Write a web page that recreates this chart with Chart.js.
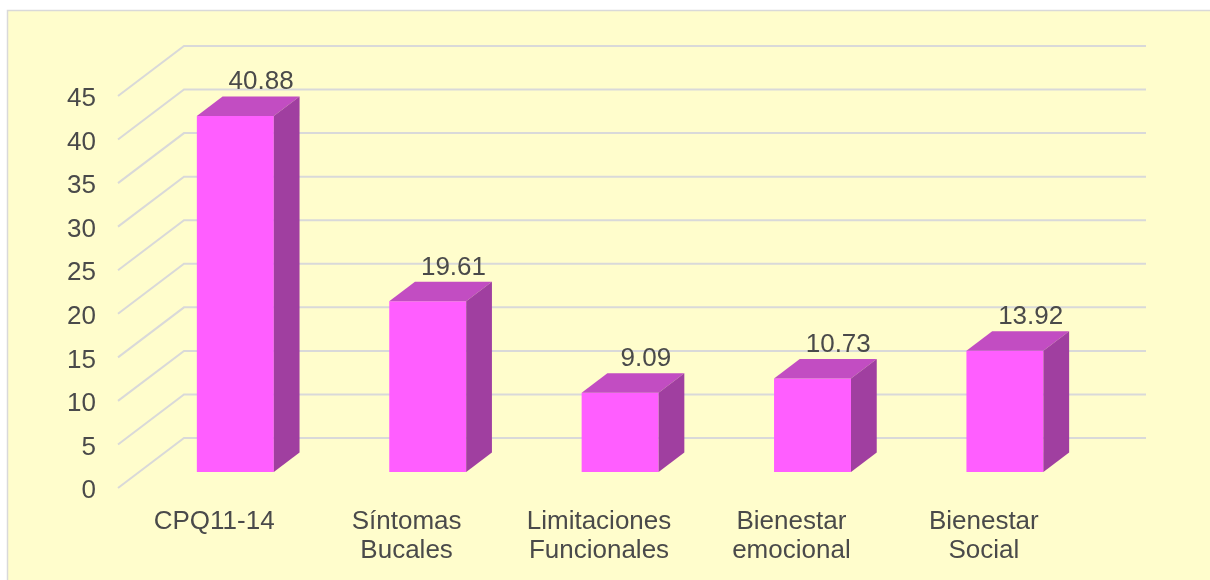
<!DOCTYPE html>
<html>
<head>
<meta charset="utf-8">
<script src="https://cdn.jsdelivr.net/npm/chart.js@4.4.1/dist/chart.umd.min.js"></script>
<style>
    html, body { margin: 0; padding: 0; background: #fff; }
    canvas { display: block; }
</style>
</head>
<body>
<canvas id="chart" width="1210" height="580"></canvas>
<script>
// Datos
var categories = ['CPQ11-14', ['Síntomas', 'Bucales'], ['Limitaciones', 'Funcionales'], ['Bienestar', 'emocional'], ['Bienestar', 'Social']];
var values     = [40.88, 19.61, 9.09, 10.73, 13.92];
var yTicks     = [0, 5, 10, 15, 20, 25, 30, 35, 40, 45];

// Estilo / perspectiva 3D
var DEPTH_X     = 66;
var DEPTH_Y     = -50;
var BAR_FRONT   = 0.32;   // profundidad de la cara frontal
var BAR_BACK    = 0.71;   // profundidad de la cara trasera
var TEXT_COLOR  = '#4a4a4a';
var GRID_COLOR  = '#d9d9d9';
var FONT        = "'Liberation Sans', Arial, sans-serif";

var depth3d = {
    id: 'depth3d',
    afterLayout: function (chart) {
        // bajar un poco las etiquetas del eje y
        var s = chart.scales.y;
        if (s._shifted) return;
        var orig = s.drawLabels;
        s.drawLabels = function (area) {
            this.ctx.save();
            this.ctx.translate(0, 3);
            orig.call(this, area);
            this.ctx.restore();
        };
        s._shifted = true;
    },
    beforeDraw: function (chart) {
        var ctx = chart.ctx;
        ctx.save();
        ctx.fillStyle = '#ffffff';
        ctx.fillRect(0, 0, chart.width, chart.height);
        ctx.fillStyle = '#fffdcc';
        ctx.fillRect(8, 11, chart.width - 8, chart.height - 11);
        ctx.strokeStyle = '#d9d9d9';
        ctx.lineWidth = 1.5;
        ctx.beginPath();
        ctx.moveTo(7.5, chart.height);
        ctx.lineTo(7.5, 10.5);
        ctx.lineTo(chart.width, 10.5);
        ctx.stroke();
        ctx.restore();
    },
    beforeDatasetsDraw: function (chart) {
        // rejilla: pared trasera + lineas diagonales del lado izquierdo
        var ctx = chart.ctx, y = chart.scales.y, area = chart.chartArea;
        ctx.save();
        ctx.strokeStyle = GRID_COLOR;
        ctx.lineWidth = 2;
        yTicks.forEach(function (t) {
            var py = y.getPixelForValue(t);
            ctx.beginPath();
            ctx.moveTo(area.left, py);
            ctx.lineTo(area.left + DEPTH_X, py + DEPTH_Y);
            ctx.lineTo(area.right + DEPTH_X, py + DEPTH_Y);
            ctx.stroke();
        });
        ctx.restore();
    },
    beforeDatasetDraw: function (chart) {
        chart.ctx.save();
        chart.ctx.translate(DEPTH_X * BAR_FRONT, DEPTH_Y * BAR_FRONT);
    },
    afterDatasetDraw: function (chart) {
        chart.ctx.restore();
    },
    afterDatasetsDraw: function (chart) {
        var ctx = chart.ctx;
        var meta = chart.getDatasetMeta(0);
        var fx = DEPTH_X * BAR_FRONT, fy = DEPTH_Y * BAR_FRONT;
        var dx = DEPTH_X * (BAR_BACK - BAR_FRONT), dy = DEPTH_Y * (BAR_BACK - BAR_FRONT);

        ctx.save();
        meta.data.forEach(function (el, i) {
            var x0 = el.x - el.width / 2 + fx;
            var x1 = el.x + el.width / 2 + fx;
            var top = el.y + fy;
            var base = el.base + fy;

            // cara superior
            ctx.fillStyle = '#c24dc2';
            ctx.beginPath();
            ctx.moveTo(x0, top);
            ctx.lineTo(x1, top);
            ctx.lineTo(x1 + dx, top + dy);
            ctx.lineTo(x0 + dx, top + dy);
            ctx.closePath();
            ctx.fill();

            // cara lateral
            ctx.fillStyle = '#a03fa0';
            ctx.beginPath();
            ctx.moveTo(x1, top);
            ctx.lineTo(x1 + dx, top + dy);
            ctx.lineTo(x1 + dx, base + dy);
            ctx.lineTo(x1, base);
            ctx.closePath();
            ctx.fill();

            // etiqueta de valor
            ctx.fillStyle = TEXT_COLOR;
            ctx.font = '26px ' + FONT;
            ctx.textAlign = 'center';
            ctx.textBaseline = 'alphabetic';
            ctx.fillText(values[i].toFixed(2), el.x + fx + dx, top + dy - 7);
        });
        ctx.restore();
    }
};

new Chart(document.getElementById('chart'), {
    type: 'bar',
    data: {
        labels: categories,
        datasets: [{
            data: values,
            backgroundColor: '#ff5eff',
            borderWidth: 0,
            barPercentage: 0.4,
            categoryPercentage: 1,
            clip: false
        }]
    },
    options: {
        responsive: false,
        animation: false,
        events: [],
        layout: { padding: { left: 0, top: 96, right: 130, bottom: 0 } },
        plugins: {
            legend: { display: false },
            tooltip: { enabled: false }
        },
        scales: {
            x: {
                grid: { display: false, drawTicks: false },
                border: { display: false },
                ticks: {
                    color: TEXT_COLOR,
                    padding: 20,
                    maxRotation: 0,
                    autoSkip: false,
                    font: { family: FONT, size: 26, lineHeight: 1.1 }
                },
                afterFit: function (s) { s.height = 92; }
            },
            y: {
                min: 0,
                max: 45,
                grid: { display: false, drawTicks: false },
                border: { display: false },
                afterBuildTicks: function (s) {
                    s.ticks = yTicks.map(function (v) { return { value: v }; });
                },
                ticks: {
                    color: TEXT_COLOR,
                    padding: 22,
                    font: { family: FONT, size: 26 }
                },
                afterFit: function (s) { s.width = 118; }
            }
        }
    },
    plugins: [depth3d]
});
</script>
</body>
</html>
